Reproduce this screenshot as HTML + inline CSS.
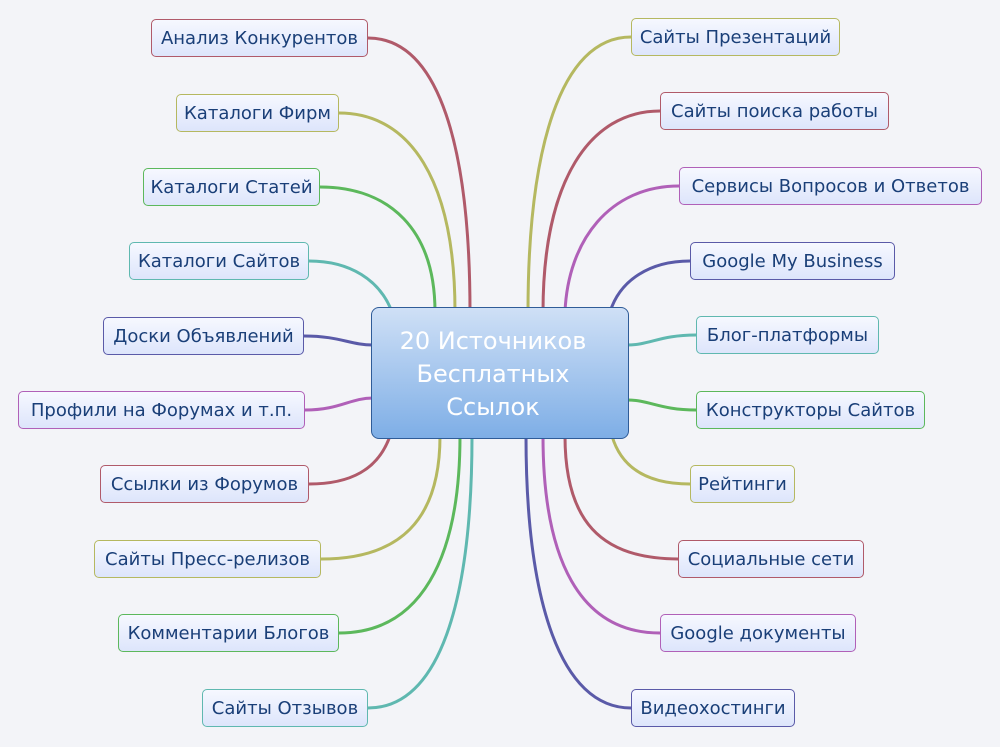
<!DOCTYPE html>
<html><head><meta charset="utf-8"><style>
body{margin:0;width:1000px;height:747px;background:#f3f4f8;position:relative;overflow:hidden;font-family:"DejaVu Sans","Liberation Sans",sans-serif}
.b{position:absolute;height:38px;box-sizing:border-box;border:1px solid;border-radius:5px;background:linear-gradient(#f6f8ff,#dde5fb);color:#1a3f78;font-size:18px;line-height:37px;text-align:center;white-space:nowrap}
.c{position:absolute;left:371px;top:307px;width:258px;height:132px;box-sizing:border-box;border:1px solid #2f5c98;border-radius:8px;background:linear-gradient(#cfe0f6,#7eaee6);color:#fff;font-size:24px;line-height:33px;text-align:center;padding-top:17px;padding-right:14px}
svg{position:absolute;left:0;top:0}
</style></head><body>
<svg width="1000" height="747" fill="none" stroke-width="3" stroke-linecap="round">
<path d="M368,38 C440,38 470,150 470,312" stroke="#b05a6a"/>
<path d="M339,113 C410,113 455,180 455,312" stroke="#b5b860"/>
<path d="M320,187 C390,187 435,230 435,312" stroke="#5cb85c"/>
<path d="M309,261 C350,261 380,280 392,312" stroke="#5fb8b0"/>
<path d="M304,336 C340,336 350,345 373,345" stroke="#5a5aa8"/>
<path d="M305,410 C340,410 350,398 373,398" stroke="#b060b8"/>
<path d="M309,484 C350,484 378,470 390,436" stroke="#b05a6a"/>
<path d="M321,559 C400,559 440,520 440,436" stroke="#b5b860"/>
<path d="M339,633 C420,633 460,560 460,436" stroke="#5cb85c"/>
<path d="M368,708 C440,708 472,600 472,436" stroke="#5fb8b0"/>
<path d="M631,37 C560,37 528,150 528,312" stroke="#b5b860"/>
<path d="M660,111 C590,111 543,180 543,312" stroke="#b05a6a"/>
<path d="M679,186 C610,186 568,240 565,312" stroke="#b060b8"/>
<path d="M690,261 C650,261 620,280 610,312" stroke="#5a5aa8"/>
<path d="M696,335 C660,335 650,345 627,345" stroke="#5fb8b0"/>
<path d="M696,410 C660,410 650,400 627,400" stroke="#5cb85c"/>
<path d="M690,484 C650,484 622,470 612,436" stroke="#b5b860"/>
<path d="M678,559 C600,559 565,520 565,436" stroke="#b05a6a"/>
<path d="M660,633 C580,633 543,560 543,436" stroke="#b060b8"/>
<path d="M631,708 C560,708 526,600 526,436" stroke="#5a5aa8"/>
</svg>
<div class="c">20 Источников<br>Бесплатных<br>Ссылок</div>
<div class="b" style="left:151px;top:19px;width:217px;border-color:#b05a6a">Анализ Конкурентов</div>
<div class="b" style="left:176px;top:94px;width:163px;border-color:#b5b860">Каталоги Фирм</div>
<div class="b" style="left:143px;top:168px;width:177px;border-color:#5cb85c">Каталоги Статей</div>
<div class="b" style="left:129px;top:242px;width:180px;border-color:#5fb8b0">Каталоги Сайтов</div>
<div class="b" style="left:103px;top:317px;width:201px;border-color:#5a5aa8">Доски Объявлений</div>
<div class="b" style="left:18px;top:391px;width:287px;border-color:#b060b8">Профили на Форумах и т.п.</div>
<div class="b" style="left:100px;top:465px;width:209px;border-color:#b05a6a">Ссылки из Форумов</div>
<div class="b" style="left:94px;top:540px;width:227px;border-color:#b5b860">Сайты Пресс-релизов</div>
<div class="b" style="left:118px;top:614px;width:221px;border-color:#5cb85c">Комментарии Блогов</div>
<div class="b" style="left:202px;top:689px;width:166px;border-color:#5fb8b0">Сайты Отзывов</div>
<div class="b" style="left:631px;top:18px;width:209px;border-color:#b5b860">Сайты Презентаций</div>
<div class="b" style="left:660px;top:92px;width:229px;border-color:#b05a6a">Сайты поиска работы</div>
<div class="b" style="left:679px;top:167px;width:303px;border-color:#b060b8">Сервисы Вопросов и Ответов</div>
<div class="b" style="left:690px;top:242px;width:205px;border-color:#5a5aa8">Google My Business</div>
<div class="b" style="left:696px;top:316px;width:183px;border-color:#5fb8b0">Блог-платформы</div>
<div class="b" style="left:696px;top:391px;width:229px;border-color:#5cb85c">Конструкторы Сайтов</div>
<div class="b" style="left:690px;top:465px;width:105px;border-color:#b5b860">Рейтинги</div>
<div class="b" style="left:678px;top:540px;width:186px;border-color:#b05a6a">Социальные сети</div>
<div class="b" style="left:660px;top:614px;width:196px;border-color:#b060b8">Google документы</div>
<div class="b" style="left:631px;top:689px;width:164px;border-color:#5a5aa8">Видеохостинги</div>
</body></html>
